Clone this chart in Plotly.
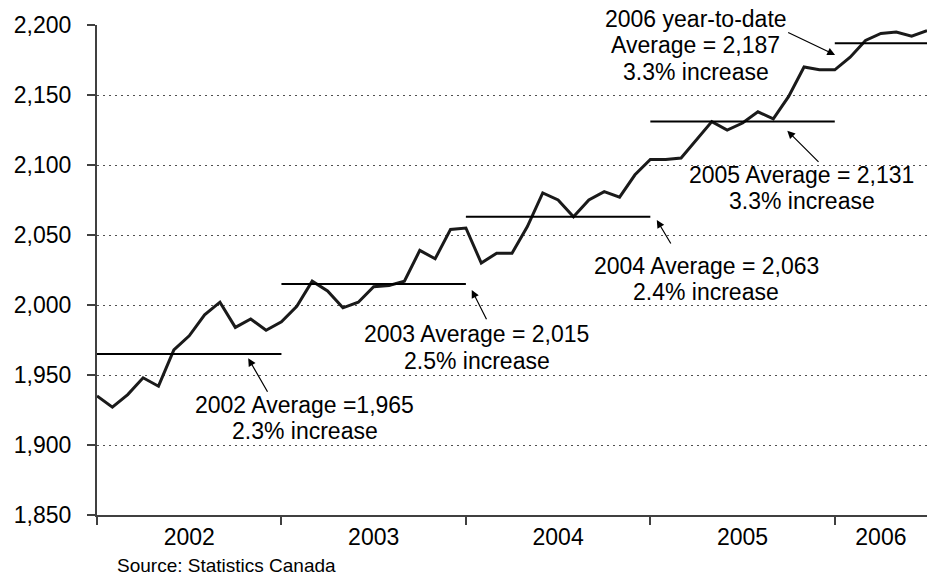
import plotly.graph_objects as go

# ---- data ----
years = ["2002", "2003", "2004", "2005", "2006"]
months_per_year = [12, 12, 12, 12, 7]
values_2002 = [1935, 1927, 1936, 1948, 1942, 1968, 1978, 1993, 2002, 1984, 1990, 1982]
values_2003 = [1988, 1999, 2017, 2010, 1998, 2002, 2013, 2014, 2017, 2039, 2033, 2054]
values_2004 = [2055, 2030, 2037, 2037, 2056, 2080, 2075, 2063, 2075, 2081, 2077, 2093]
values_2005 = [2104, 2104, 2105, 2118, 2131, 2125, 2130, 2138, 2133, 2149, 2170, 2168]
values_2006 = [2168, 2177, 2189, 2194, 2195, 2192, 2196]
averages = [1965, 2015, 2063, 2131, 2187]
avg_labels = ["2002 Average =1,965", "2003 Average = 2,015", "2004 Average = 2,063",
              "2005 Average = 2,131", "Average = 2,187"]
increase_labels = ["2.3% increase", "2.5% increase", "2.4% increase", "3.3% increase", "3.3% increase"]
ytd_label = "2006 year-to-date"
y_ticks = [1850, 1900, 1950, 2000, 2050, 2100, 2150, 2200]
source = "Source: Statistics Canada"

values = values_2002 + values_2003 + values_2004 + values_2005 + values_2006
x = list(range(len(values)))

# year start / end positions on the monthly index axis
starts = []
pos = 0
for n in months_per_year:
    starts.append(pos)
    pos += n
ends = [s + 12 for s in starts[:-1]] + [len(values) - 1]
year_centers = [(s + e) / 2 for s, e in zip(starts, ends)]

FONT = "Liberation Sans, Arial, sans-serif"

fig = go.Figure()
fig.add_trace(go.Scatter(x=x, y=values, mode="lines",
                         line=dict(color="#1a1a1a", width=3), showlegend=False,
                         hoverinfo="skip"))
for s, e, a in zip(starts, ends, averages):
    fig.add_trace(go.Scatter(x=[s, e], y=[a, a], mode="lines",
                             line=dict(color="#000000", width=2), showlegend=False,
                             hoverinfo="skip"))

annotations = []
# arrows: (tip_x, tip_y, tail_x, tail_y) in data units
arrows = [
    (9.84, 1962.0, 11.15, 1937.0),
    (24.38, 2010.7, 25.39, 1988.8),
    (36.42, 2060.7, 37.39, 2042.9),
    (44.91, 2124.5, 47.04, 2101.2),
    (48.02, 2178.6, 44.87, 2195.2),
]
for tx, ty, ax, ay in arrows:
    annotations.append(dict(x=tx, y=ty, ax=ax, ay=ay, xref="x", yref="y",
                            axref="x", ayref="y", text="", showarrow=True,
                            arrowhead=2, arrowsize=1.3, arrowwidth=1.2,
                            arrowcolor="#000000", standoff=0, startstandoff=0))

# text lines: (x, y) centres in data units
text_pos = [
    [(13.53, 1928.9), (13.53, 1909.8)],
    [(24.72, 1979.0), (24.72, 1959.9)],
    [(39.64, 2028.2), (39.64, 2009.6)],
    [(45.85, 2093.2), (45.85, 2074.1)],
    [(38.96, 2185.9), (38.96, 2166.1)],
]
for (p1, p2), t1, t2 in zip(text_pos, avg_labels, increase_labels):
    for (px, py), t in ((p1, t1), (p2, t2)):
        annotations.append(dict(x=px, y=py, xref="x", yref="y", text=t,
                                showarrow=False, xanchor="center", yanchor="middle",
                                font=dict(family=FONT, size=23, color="#000000")))
annotations.append(dict(x=38.96, y=1.012, xref="x", yref="paper", text=ytd_label,
                        showarrow=False, xanchor="center", yanchor="middle",
                        font=dict(family=FONT, size=23, color="#000000")))
annotations.append(dict(x=0.0217, y=-0.104, xref="paper", yref="paper", text=source,
                        showarrow=False, xanchor="left", yanchor="middle",
                        font=dict(family=FONT, size=19, color="#000000")))

fig.update_layout(
    width=927, height=577,
    margin=dict(l=97, r=0, t=25, b=62),
    paper_bgcolor="white", plot_bgcolor="white",
    font=dict(family=FONT, size=23, color="#000000"),
    annotations=annotations,
    showlegend=False,
)
fig.update_xaxes(
    range=[0, len(values) - 1],
    tickvals=year_centers, ticktext=years,
    ticks="", showgrid=False, zeroline=False,
    showline=True, linecolor="#404040", linewidth=2,
    tickfont=dict(family=FONT, size=23, color="#000000"),
    ticklabelstandoff=0,
    minor=dict(tick0=0, dtick=12, ticks="outside", ticklen=8, tickwidth=2,
               tickcolor="#404040", showgrid=False),
)
fig.update_yaxes(
    range=[1850, 2200], tickvals=y_ticks, tickformat=",",
    ticks="outside", ticklen=8, tickwidth=1.5, tickcolor="#404040",
    showline=True, linecolor="#404040", linewidth=2,
    showgrid=True, gridcolor="#505050", gridwidth=1, griddash="2px,4px",
    zeroline=False,
    tickfont=dict(family=FONT, size=23, color="#000000"),
    ticklabelstandoff=11,
)

fig.write_html("out.html")
